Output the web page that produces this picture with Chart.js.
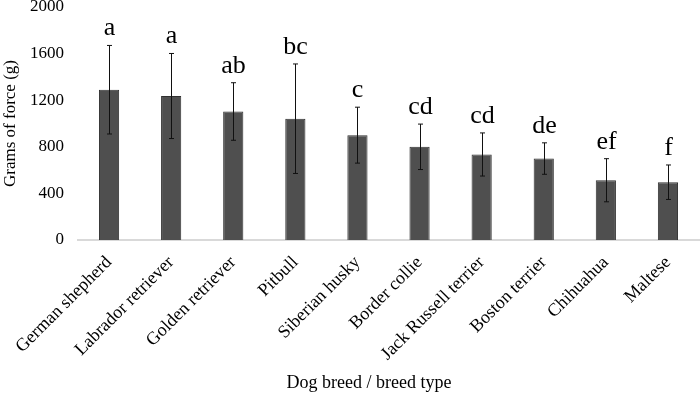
<!DOCTYPE html>
<html><head><meta charset="utf-8">
<script src="https://cdn.jsdelivr.net/npm/chart.js@4.4.1/dist/chart.umd.min.js"></script>
<style>html,body{margin:0;padding:0;background:#fff}#wrap{width:700px;height:393px}</style>
</head><body><div id="wrap"><canvas id="c" width="700" height="393"></canvas></div>
<script>
const breeds = ["German shepherd","Labrador retriever","Golden retriever","Pitbull","Siberian husky","Border collie","Jack Russell terrier","Boston terrier","Chihuahua","Maltese"];
const meanForce = [1290,1236,1103,1041,900,800,734,699,513,496];
const errForce = [380,365,247,470,240,195,185,135,185,148];
const groupLetters = ["a","a","ab","bc","c","cd","cd","de","ef","f"];
const yTicks = [0,400,800,1200,1600,2000];
const xTitle = "Dog breed / breed type";

const FONT = "'Liberation Serif','Times New Roman',serif";

const errPlugin = {
  id: 'errbars',
  afterDatasetsDraw(chart){
    const ctx = chart.ctx, y = chart.scales.y;
    const meta = chart.getDatasetMeta(0);
    ctx.save();
    ctx.strokeStyle = '#111'; ctx.lineWidth = 1;
    meta.data.forEach((bar,i)=>{
      const cx = Math.round(bar.x)+0.5;
      const top = y.getPixelForValue(meanForce[i]+errForce[i]);
      const bot = y.getPixelForValue(meanForce[i]-errForce[i]);
      ctx.beginPath();
      ctx.moveTo(cx,top); ctx.lineTo(cx,bot);
      ctx.moveTo(cx-2.5,top); ctx.lineTo(cx+2.5,top);
      ctx.moveTo(cx-2.5,bot); ctx.lineTo(cx+2.5,bot);
      ctx.stroke();
      ctx.fillStyle = '#000';
      ctx.font = '26px ' + FONT;
      ctx.textAlign = 'center'; ctx.textBaseline = 'alphabetic';
      ctx.fillText(groupLetters[i], cx, top - 10);
    });
    ctx.fillStyle = '#000';
    ctx.font = '18px ' + FONT;
    ctx.textAlign = 'center'; ctx.textBaseline = 'alphabetic';
    ctx.fillText(xTitle, 369, 388);
    ctx.restore();
  }
};

new Chart(document.getElementById('c'), {
  type: 'bar',
  data: { labels: breeds, datasets: [{ data: meanForce, backgroundColor: '#4f4f4f', borderColor: '#303030', borderWidth: 1, barPercentage: 0.65, categoryPercentage: 0.5 }] },
  options: {
    responsive: false, animation: false,
    layout: { padding: { top: 0, right: 1, bottom: 0, left: 0 } },
    plugins: { legend: { display: false }, tooltip: { enabled: false } },
    scales: {
      y: {
        min: 0, max: 2000,
        afterBuildTicks(s){ s.ticks = yTicks.map(v=>({value:v})); },
        afterFit(s){ s.width = 78; s.paddingTop = 7; s.paddingBottom = 0; },
        grid: { display: false, drawTicks: false },
        border: { display: false },
        ticks: { color: '#000', font: { family: FONT, size: 17 }, padding: 14, callback: v => String(v) },
        title: { display: true, text: 'Grams of force (g)', color: '#000', font: { family: FONT, size: 17 }, padding: { top: 0, bottom: 0 } }
      },
      x: {
        afterFit(s){ s.height = 153; },
        grid: { display: false, drawTicks: false },
        border: { display: true, color: '#d9d9d9', width: 2 },
        ticks: { color: '#000', font: { family: FONT, size: 18 }, minRotation: 45, maxRotation: 45, padding: 12, autoSkip: false }
      }
    }
  },
  plugins: [errPlugin]
});
</script></body></html>
